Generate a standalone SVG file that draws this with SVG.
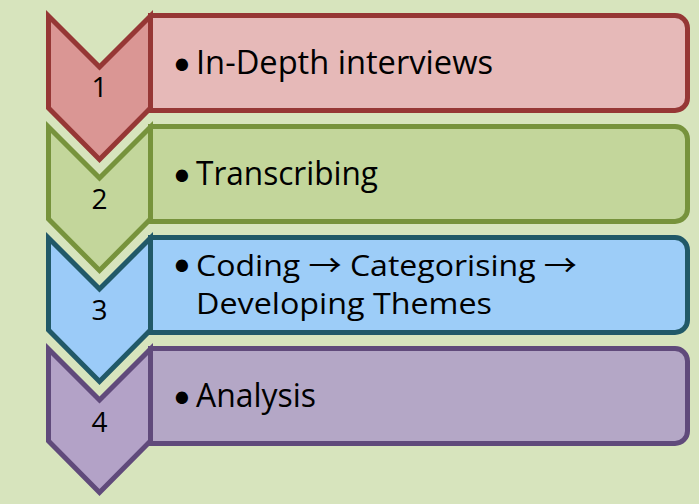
<svg xmlns="http://www.w3.org/2000/svg" width="699" height="504" viewBox="0 0 699 504">
  <style>
    .shape { stroke-width: 5; stroke-linejoin: miter; }
    .num { font-family: "Open Sans", "Liberation Sans", sans-serif; font-size: 28px; fill: #000; text-anchor: middle; }
    .txt { font-family: "Open Sans", "Liberation Sans", sans-serif; font-size: 33px; fill: #000; }
    .txt-sm { font-family: "Open Sans", "Liberation Sans", sans-serif; font-size: 29px; fill: #000; }
    .bul { font-family: "DejaVu Sans", sans-serif; font-size: 42px; fill: #000; }
    .arr { font-family: "Noto Sans CJK JP", "DejaVu Sans", sans-serif; font-size: 30px; }
    .r1 .chev { fill: #DA9694; stroke: #963735; }
    .r1 .box { fill: #E6B9B8; stroke: #963735; }
    .r2 .chev { fill: #C3D69B; stroke: #77933C; }
    .r2 .box { fill: #C3D69B; stroke: #77933C; }
    .r3 .chev { fill: #9BCBF8; stroke: #215968; }
    .r3 .box { fill: #9DCDF8; stroke: #215968; }
    .r4 .chev { fill: #B3A2C7; stroke: #604A7B; }
    .r4 .box { fill: #B4A7C6; stroke: #604A7B; }
  </style>
  <defs>
    <!-- chevron pointing down, notch at the top -->
    <path id="chevron" d="M48.5,16 L99.5,67 L150.5,16 L150.5,108 L99.5,159.5 L48.5,108 Z"/>
    <!-- text panel: square on the left, rounded on the right -->
    <path id="panel" d="M150.5,15.5 H675 A12.5,12.5 0 0 1 687.5,28 V98 A12.5,12.5 0 0 1 675,110.5 H150.5 Z"/>
  </defs>

  <rect width="699" height="504" fill="#D7E4BD"/>

  <g id="connectors"/>

  <g id="step1" class="r1">
    <use href="#panel" class="shape box"/>
    <use href="#chevron" class="shape chev"/>
    <text class="num" x="99.5" y="97">1</text>
    <text class="bul" x="169.5" y="80.5">•</text>
    <text class="txt" x="196" y="74" textLength="297" lengthAdjust="spacingAndGlyphs">In-Depth interviews</text>
  </g>

  <g id="step2" class="r2" transform="translate(0,111)">
    <use href="#panel" class="shape box"/>
    <use href="#chevron" class="shape chev"/>
    <text class="num" x="99.5" y="98">2</text>
    <text class="bul" x="169.5" y="80.5">•</text>
    <text class="txt" x="196" y="74" textLength="182" lengthAdjust="spacingAndGlyphs">Transcribing</text>
  </g>

  <g id="step3" class="r3" transform="translate(0,222)">
    <use href="#panel" class="shape box"/>
    <use href="#chevron" class="shape chev"/>
    <text class="num" x="99.5" y="98">3</text>
    <text class="bul" x="169.5" y="59.5">•</text>
    <text class="txt-sm" x="196" y="53.5" textLength="381" lengthAdjust="spacingAndGlyphs">Coding <tspan class="arr">→</tspan> Categorising <tspan class="arr">→</tspan></text>
    <text class="txt-sm" x="196" y="91.5" textLength="296" lengthAdjust="spacingAndGlyphs">Developing Themes</text>
  </g>

  <g id="step4" class="r4" transform="translate(0,333)">
    <use href="#panel" class="shape box"/>
    <use href="#chevron" class="shape chev"/>
    <text class="num" x="99.5" y="98.5">4</text>
    <text class="bul" x="169.5" y="80.5">•</text>
    <text class="txt" x="196" y="74" textLength="120" lengthAdjust="spacingAndGlyphs">Analysis</text>
  </g>
</svg>
